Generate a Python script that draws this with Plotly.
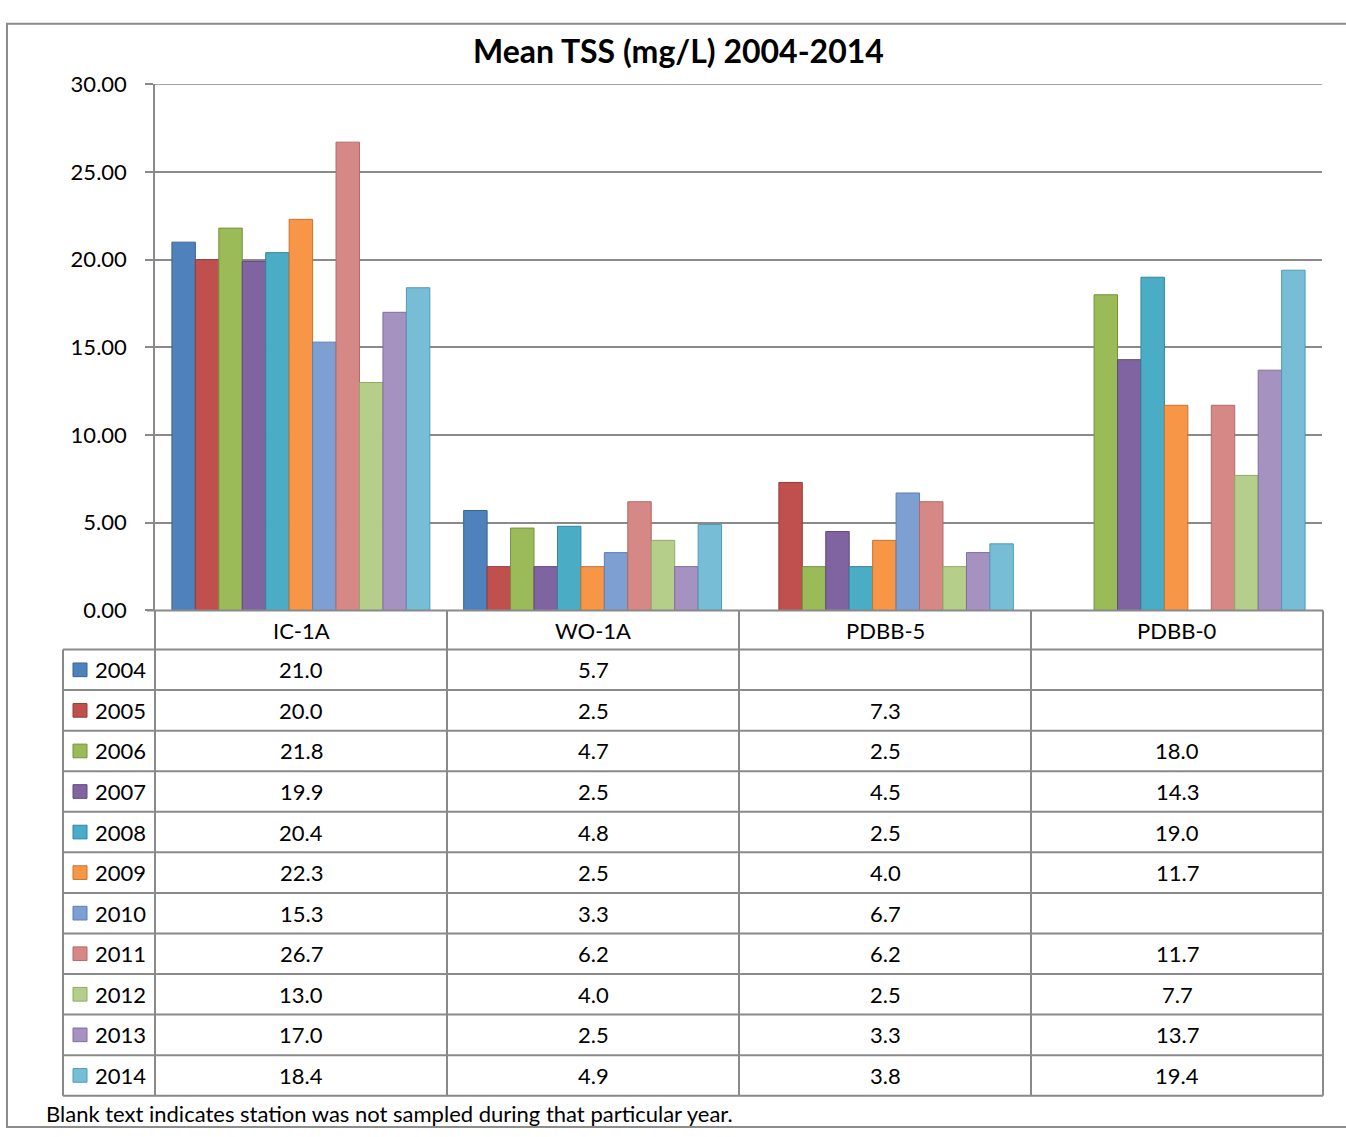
import plotly.graph_objects as go

W, H = 1346, 1137

stations = ["IC-1A", "WO-1A", "PDBB-5", "PDBB-0"]
years = ["2004", "2005", "2006", "2007", "2008", "2009", "2010", "2011", "2012", "2013", "2014"]
v2004 = [21.0, 5.7, None, None]
v2005 = [20.0, 2.5, 7.3, None]
v2006 = [21.8, 4.7, 2.5, 18.0]
v2007 = [19.9, 2.5, 4.5, 14.3]
v2008 = [20.4, 4.8, 2.5, 19.0]
v2009 = [22.3, 2.5, 4.0, 11.7]
v2010 = [15.3, 3.3, 6.7, None]
v2011 = [26.7, 6.2, 6.2, 11.7]
v2012 = [13.0, 4.0, 2.5, 7.7]
v2013 = [17.0, 2.5, 3.3, 13.7]
v2014 = [18.4, 4.9, 3.8, 19.4]
series = [v2004, v2005, v2006, v2007, v2008, v2009, v2010, v2011, v2012, v2013, v2014]
colors = ["#4F81BD", "#C0504D", "#9BBB59", "#8064A2", "#4BACC6", "#F79646",
          "#7E9FD2", "#D68887", "#B5CF8B", "#A592C1", "#78BDD6"]
edges = ["#3A6396", "#963C3A", "#76923F", "#5E4A7C", "#31859C", "#C5742F",
         "#5F7FB0", "#B06A69", "#8FAA66", "#7F6E9C", "#4F9AB5"]
y_max = 30

FONT = "Lato"
GRID = "#8A8A8A"

def px(x):
    return x / W

def py(y):
    return 1 - y / H

fig = go.Figure()
for yr, vals, c, e in zip(years, series, colors, edges):
    fig.add_trace(go.Bar(x=stations, y=vals, name=yr,
                         marker=dict(color=c, line=dict(color=e, width=1)),
                         showlegend=False))

x0, x1 = 155, 1322
ytop, ybot = 72, 611
fig.update_layout(
    width=W, height=H, autosize=False,
    margin=dict(l=0, r=0, t=0, b=0),
    paper_bgcolor="white", plot_bgcolor="white",
    barmode="group", bargap=0.116, bargroupgap=0,
    font=dict(family=FONT, color="#000000"),
    xaxis=dict(domain=[px(x0), px(x1)], showticklabels=False, showgrid=False,
               showline=False, zeroline=False, ticks=""),
    yaxis=dict(domain=[py(ybot), py(ytop)], range=[0, y_max], dtick=5, tickformat=".2f",
               showgrid=True, gridcolor=GRID, gridwidth=1.5, zeroline=False,
               showline=True, linecolor=GRID, linewidth=1.5,
               ticks="outside", ticklen=8, tickcolor=GRID, tickwidth=1.5,
               ticklabelstandoff=14,
               tickfont=dict(family=FONT, size=22, color="#000000")),
)

shapes = []
def line(xa, ya, xb, yb, w=1.5, c=GRID):
    shapes.append(dict(type="line", xref="paper", yref="paper",
                       x0=px(xa), y0=py(ya), x1=px(xb), y1=py(yb),
                       line=dict(color=c, width=w)))

# top gridline at axis maximum
shapes.append(dict(type="line", xref="paper", yref="y", x0=px(x0), x1=px(x1),
                   y0=y_max, y1=y_max, line=dict(color=GRID, width=1.5), layer="below"))

# outer border
shapes.append(dict(type="rect", xref="paper", yref="paper",
                   x0=px(7), y0=py(1140), x1=px(1352), y1=py(10),
                   line=dict(color="#8C8C8C", width=2), fillcolor="rgba(0,0,0,0)"))

col_edges = [155, 447, 739, 1031, 1323]
leg_left = 63
head_bot = 651
row_h = (1108 - 651) / 11
row_edges = [head_bot + i * row_h for i in range(12)]

line(147, ybot, 1323, ybot, 2)
for xe in col_edges:
    line(xe, ybot, xe, row_edges[-1], 2)
for ye in row_edges:
    line(leg_left, ye, 1323, ye, 2)
line(leg_left, head_bot, leg_left, row_edges[-1], 2)

annotations = []
annotations.append(dict(text="<b>Mean TSS (mg/L) 2004-2014</b>", xref="paper", yref="paper",
                        x=px(678), y=py(37), showarrow=False, xanchor="center", yanchor="middle",
                        font=dict(family=FONT, size=32, color="#000000")))
for i, s in enumerate(stations):
    cx = (col_edges[i] + col_edges[i + 1]) / 2
    annotations.append(dict(text=s, xref="paper", yref="paper", x=px(cx), y=py((ybot + head_bot) / 2),
                            showarrow=False, xanchor="center", yanchor="middle",
                            font=dict(family=FONT, size=22, color="#000000")))
for r, (yr, vals, c, e) in enumerate(zip(years, series, colors, edges)):
    cy = (row_edges[r] + row_edges[r + 1]) / 2
    shapes.append(dict(type="rect", xref="paper", yref="paper",
                       x0=px(73), x1=px(87), y0=py(cy + 7), y1=py(cy - 7),
                       fillcolor=c, line=dict(color=e, width=1)))
    annotations.append(dict(text=yr, xref="paper", yref="paper", x=px(93), y=py(cy),
                            showarrow=False, xanchor="left", yanchor="middle",
                            font=dict(family=FONT, size=22, color="#000000")))
    for i, v in enumerate(vals):
        if v is None:
            continue
        cx = (col_edges[i] + col_edges[i + 1]) / 2
        annotations.append(dict(text=f"{v:.1f}", xref="paper", yref="paper", x=px(cx), y=py(cy),
                                showarrow=False, xanchor="center", yanchor="middle",
                                font=dict(family=FONT, size=22, color="#000000")))
annotations.append(dict(text="Blank text indicates station was not sampled during that particular year.",
                        xref="paper", yref="paper", x=px(44), y=py(1126), showarrow=False,
                        xanchor="left", yanchor="middle",
                        font=dict(family=FONT, size=22, color="#000000")))

fig.update_layout(shapes=shapes, annotations=annotations)
fig.write_html("out.html", config={"displayModeBar": False},
               post_script="document.body.style.margin='0';document.body.style.overflow='hidden';")
